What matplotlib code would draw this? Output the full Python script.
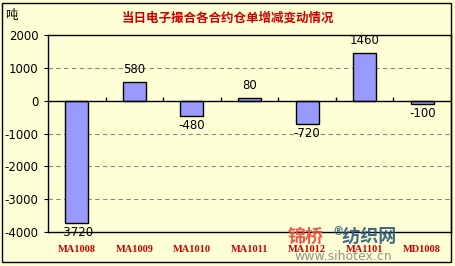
import matplotlib
matplotlib.use("Agg")
import matplotlib.pyplot as plt
import numpy as np
from matplotlib.patches import Rectangle

plt.rcParams['font.family'] = ['Noto Sans CJK SC', 'DejaVu Sans']

categories = ["MA1008", "MA1009", "MA1010", "MA1011", "MA1012", "MA1101", "MD1008"]
values = [-3720, 580, -480, 80, -720, 1460, -100]
yticks = [-4000, -3000, -2000, -1000, 0, 1000, 2000]

W, H = 456, 266
bg = "#FFFFD6"
fig = plt.figure(figsize=(W / 100, H / 100), dpi=100, facecolor=bg)
ax = fig.add_axes([48 / W, 1 - 232 / H, (451 - 48) / W, (232 - 35) / H])
ax.set_facecolor(bg)

x = np.arange(len(categories))
ax.bar(x, values, width=0.4, color="#9999FF", edgecolor="black", linewidth=1.0, zorder=3)
ax.set_xlim(-0.5, len(categories) - 0.5)
ax.set_ylim(-4000, 2000)
ax.set_yticks(yticks)
ax.set_yticklabels([str(v) for v in yticks], fontsize=8.5, family='DejaVu Sans')
for v in yticks[1:-1]:
    if v != 0:
        ax.axhline(v, color="#888888", lw=0.8, ls=(0, (4, 3)), zorder=1)
ax.axhline(0, color="black", lw=1.0, zorder=4)
ax.plot(x[:-1] + 0.5, np.zeros(len(x) - 1), ls='none', marker=2, ms=3, color='black', zorder=4)

ax.set_xticks(x)
ax.set_xticklabels(categories, fontsize=7.5, fontweight='bold', color="#CC0000", family='Liberation Serif')
ax.tick_params(axis='x', length=0, pad=9)
ax.tick_params(axis='y', length=3, direction='out', pad=4)
for s in ax.spines.values():
    s.set_color("black")
    s.set_linewidth(1.0)

for xi, v in zip(x, values):
    if v >= 0:
        ax.annotate(str(v), (xi, v), xytext=(0, 4), textcoords='offset points',
                    ha='center', va='bottom', fontsize=8.5, family='DejaVu Sans')
    else:
        ax.annotate(str(v), (xi, v), xytext=(0, -2), textcoords='offset points',
                    ha='center', va='top', fontsize=8.5, family='DejaVu Sans')

fig.text(228 / W, 1 - 18 / H, "当日电子撮合各合约仓单增减变动情况", ha='center', va='center',
         fontsize=9, fontweight='bold', color="#CC0000")
fig.text(5 / W, 1 - 15 / H, "吨", ha='left', va='center', fontsize=9, color='black')

# outer frame
fig.patches.append(Rectangle((2 / W, 1 - 262 / H), (451 - 2) / W, (262 - 3) / H,
                             transform=fig.transFigure, fill=False, edgecolor='black', lw=1.0))

# watermark
fig.text(288 / W, 1 - 236 / H, "锦桥", ha='left', va='center', fontsize=13, fontweight='bold',
         color="#E8483A", alpha=0.9)
fig.text(333 / W, 1 - 236 / H, "®纺织网", ha='left', va='center', fontsize=13, fontweight='bold',
         color="#2D5B7A", alpha=0.9)
fig.text(343 / W, 1 - 257 / H, "www.sihotex.cn", ha='center', va='center', fontsize=9,
         color="#888888", alpha=0.9, family='DejaVu Sans')

fig.savefig("out.png", dpi=100, facecolor=bg)
